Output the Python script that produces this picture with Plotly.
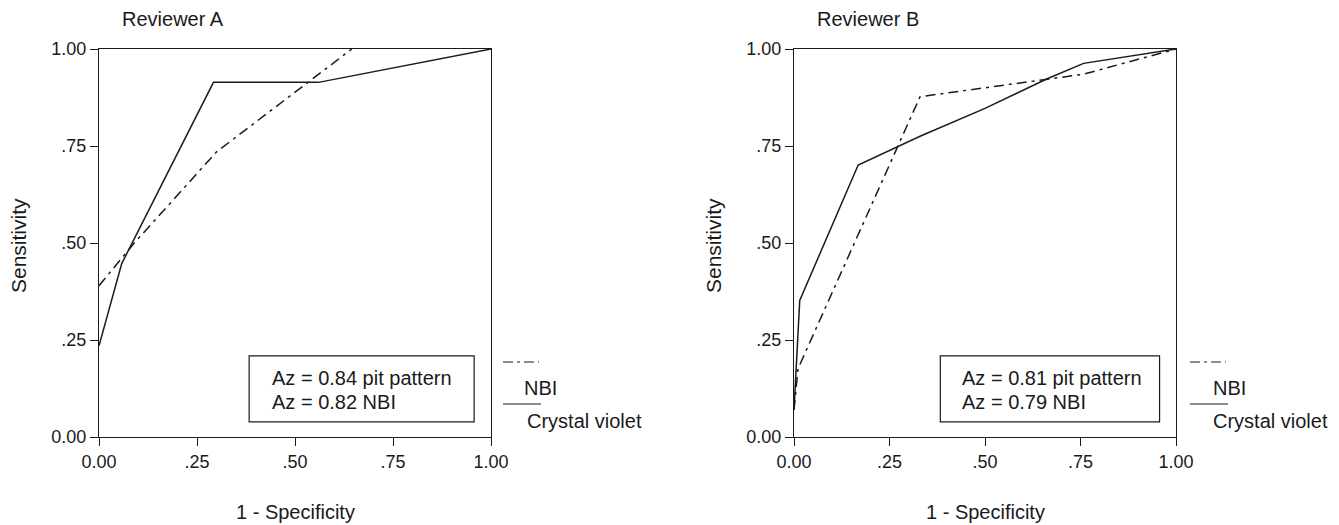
import plotly.graph_objects as go

# ---- data ----
tick_vals = [0, 0.25, 0.5, 0.75, 1.0]
tick_text = ["0.00", ".25", ".50", ".75", "1.00"]

a_cv_x = [0.0, 0.058, 0.292, 0.56, 1.0]
a_cv_y = [0.235, 0.447, 0.914, 0.914, 1.0]
a_nbi_x = [0.0, 0.09, 0.30, 0.645]
a_nbi_y = [0.39, 0.50, 0.735, 1.0]

b_cv_x = [0.0, 0.015, 0.168, 0.33, 0.50, 0.66, 0.758, 1.0]
b_cv_y = [0.07, 0.352, 0.701, 0.775, 0.847, 0.922, 0.963, 1.0]
b_nbi_x = [0.0, 0.0105, 0.33, 0.758, 1.0]
b_nbi_y = [0.07, 0.176, 0.877, 0.935, 1.0]

titles = ["Reviewer A", "Reviewer B"]
box_lines = [["Az = 0.84 pit pattern", "Az = 0.82 NBI"], ["Az = 0.81 pit pattern", "Az = 0.79 NBI"]]
legend_names = ["NBI", "Crystal violet"]

W, H = 1339, 525
OFF = 8  # page body margin in the screenshot
FONT = "Liberation Sans, Arial, sans-serif"
INK = "#1a1a1a"
DASHDOT = "10px,5px,3px,5px"
TXT = 20

# pixel layout (screen coordinates) of the two plot areas
panels = [dict(x0=99, x1=491, y0=49, y1=437, lx=503, tx=(522, 525)),
          dict(x0=794, x1=1176, y0=49, y1=437, lx=1190, tx=(1211, 1211))]

fig = go.Figure()
series = [(a_nbi_x, a_nbi_y, a_cv_x, a_cv_y), (b_nbi_x, b_nbi_y, b_cv_x, b_cv_y)]
for i, (nx, ny, cx, cy) in enumerate(series):
    xa = "x" if i == 0 else "x2"
    ya = "y" if i == 0 else "y2"
    fig.add_trace(go.Scatter(x=cx, y=cy, mode="lines", xaxis=xa, yaxis=ya,
                             line=dict(color=INK, width=1.5), showlegend=False))
    fig.add_trace(go.Scatter(x=nx, y=ny, mode="lines", xaxis=xa, yaxis=ya,
                             line=dict(color=INK, width=1.5, dash=DASHDOT), showlegend=False))

def px_x(p):
    return (p - OFF) / W

def px_y(p):
    return 1 - (p - OFF) / H

axis_common = dict(range=[0, 1], tickvals=tick_vals, ticktext=tick_text, showgrid=False,
                   zeroline=False, showline=True, linecolor=INK, linewidth=1.2, mirror=True,
                   ticks="outside", ticklen=8, tickcolor=INK, tickwidth=1.2, automargin=False,
                   tickfont=dict(family=FONT, size=18, color=INK), fixedrange=True)

def txt(x, y, s, xanchor="left", size=TXT, angle=0):
    fig.add_annotation(xref="paper", yref="paper", x=px_x(x), y=px_y(y), xanchor=xanchor,
                       yanchor="middle", text=s, showarrow=False, textangle=angle,
                       font=dict(family=FONT, size=size, color=INK))

for i, p in enumerate(panels):
    sfx = "" if i == 0 else "2"
    fig.update_layout(**{
        "xaxis" + sfx: dict(axis_common, domain=[px_x(p["x0"]), px_x(p["x1"])], anchor="y" + sfx),
        "yaxis" + sfx: dict(axis_common, domain=[px_y(p["y1"]), px_y(p["y0"])], anchor="x" + sfx),
    })
    xr = "x" + sfx
    yr = "y" + sfx
    # info box
    fig.add_shape(type="rect", xref=xr, yref=yr, x0=0.383, x1=0.957, y0=0.039, y1=0.209,
                  line=dict(color=INK, width=1.2), fillcolor="white", layer="above")
    for j, line in enumerate(box_lines[i]):
        fig.add_annotation(xref=xr, yref=yr, x=0.435, y=[0.152, 0.090][j], xanchor="left",
                           yanchor="middle", text=line, showarrow=False,
                           font=dict(family=FONT, size=TXT, color=INK))
    # titles
    txt(p["x0"] + 21, 19, titles[i])
    txt((p["x0"] + p["x1"]) / 2, 512, "1 - Specificity", xanchor="center")
    txt(p["x0"] - 81, 246, "Sensitivity", xanchor="center", size=21, angle=-90)
    # legend (outside the plot area)
    lx0 = p["lx"]
    fig.add_shape(type="line", xref="paper", yref="paper", x0=px_x(lx0), x1=px_x(lx0 + 36),
                  y0=px_y(362), y1=px_y(362), line=dict(color=INK, width=1.2, dash="10px,4px,3px,4px"))
    fig.add_shape(type="line", xref="paper", yref="paper", x0=px_x(lx0), x1=px_x(lx0 + 38),
                  y0=px_y(404), y1=px_y(404), line=dict(color=INK, width=1.2))
    txt(p["tx"][0], 388, legend_names[0])
    txt(p["tx"][1], 421, legend_names[1])

fig.update_layout(width=W, height=H, margin=dict(l=0, r=0, t=0, b=0, autoexpand=False),
                  paper_bgcolor="white", plot_bgcolor="white", showlegend=False)

fig.write_html("out.html", config={"displayModeBar": False})
